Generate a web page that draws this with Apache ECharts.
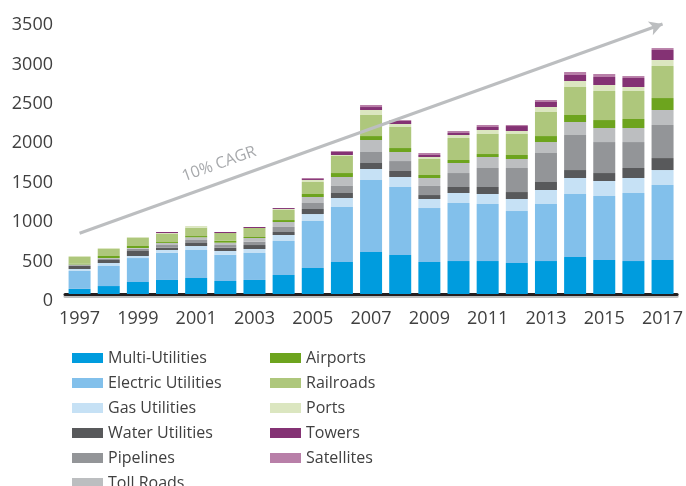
<!DOCTYPE html>
<html>
<head>
<meta charset="utf-8">
<script src="https://cdn.jsdelivr.net/npm/echarts@6.0.0/dist/echarts.min.js"></script>
<style>
    html, body { margin: 0; padding: 0; background: #fff; }
    #chart { width: 686px; height: 486px; }
</style>
</head>
<body>
<div id="chart"></div>
<script>
    var years = ['1997', '1998', '1999', '2000', '2001', '2002', '2003', '2004', '2005', '2006', '2007',
        '2008', '2009', '2010', '2011', '2012', '2013', '2014', '2015', '2016', '2017'];

    var multiUtilities = [65, 101, 152, 178, 203, 165, 178, 241, 330, 406, 533, 495, 406, 418, 418, 393, 418, 469, 431, 418, 431];
    var electricUtilities = [227, 254, 304, 346, 355, 333, 342, 431, 596, 697, 913, 862, 684, 736, 723, 659, 723, 799, 812, 863, 951];
    var gasUtilities = [25, 38, 26, 34, 51, 47, 51, 76, 88, 114, 139, 127, 115, 127, 127, 153, 178, 203, 190, 190, 190];
    var waterUtilities = [38, 38, 63, 29, 38, 42, 50, 38, 64, 64, 76, 76, 50, 76, 89, 88, 101, 101, 101, 127, 152];
    var pipelines = [10, 19, 30, 34, 38, 34, 42, 64, 76, 89, 140, 126, 115, 177, 241, 305, 368, 444, 393, 329, 419];
    var tollRoads = [10, 6, 8, 26, 34, 30, 47, 63, 76, 114, 152, 115, 101, 127, 139, 114, 139, 165, 178, 178, 190];
    var airports = [9, 26, 26, 12, 16, 25, 13, 25, 38, 50, 50, 50, 38, 38, 38, 51, 76, 89, 101, 114, 152];
    var railroads = [85, 89, 101, 102, 106, 97, 114, 127, 152, 216, 267, 267, 203, 279, 254, 266, 305, 355, 368, 355, 406];
    var ports = [13, 12, 13, 12, 21, 0, 0, 13, 26, 13, 63, 38, 25, 38, 51, 38, 63, 76, 76, 51, 76];
    var towers = [0, 0, 0, 13, 0, 13, 13, 12, 12, 38, 38, 38, 26, 26, 38, 63, 64, 76, 102, 114, 127];
    var satellites = [0, 0, 0, 0, 0, 0, 0, 0, 13, 12, 26, 12, 25, 25, 25, 13, 25, 38, 38, 25, 25];

    var yTicks = [0, 500, 1000, 1500, 2000, 2500, 3000, 3500];

    // trend arrow (start / end values) and its label
    var cagrLabel = '10% CAGR';
    var cagrStart = 770;
    var cagrEnd = 3424;

    var seriesList = [
        { name: 'Multi-Utilities', data: multiUtilities, color: '#009CDE' },
        { name: 'Electric Utilities', data: electricUtilities, color: '#82C0EB' },
        { name: 'Gas Utilities', data: gasUtilities, color: '#C6E1F5' },
        { name: 'Water Utilities', data: waterUtilities, color: '#58595B' },
        { name: 'Pipelines', data: pipelines, color: '#939598' },
        { name: 'Toll Roads', data: tollRoads, color: '#BCBEC0' },
        { name: 'Airports', data: airports, color: '#6DA41E' },
        { name: 'Railroads', data: railroads, color: '#AEC77C' },
        { name: 'Ports', data: ports, color: '#DBE6C0' },
        { name: 'Towers', data: towers, color: '#843274' },
        { name: 'Satellites', data: satellites, color: '#B87FA8' }
    ];

    var font = 'Open Sans';
    var textColor = '#404040';

    var series = seriesList.map(function (s, i) {
        var item = {
            name: s.name,
            type: 'bar',
            stack: 'total',
            barWidth: 22,
            data: s.data,
            itemStyle: { color: s.color },
            emphasis: { disabled: true }
        };
        if (i === 0) {
            item.markLine = {
                silent: true,
                symbol: ['none', 'arrow'],
                symbolSize: [11, 13],
                lineStyle: { color: '#BCBEC0', width: 3, type: 'solid' },
                label: {
                    show: true,
                    formatter: cagrLabel,
                    position: 'insideStartTop',
                    distance: 10,
                    color: '#A7A9AC',
                    fontFamily: font,
                    fontSize: 16,
                    padding: [0, 0, 0, 106]
                },
                data: [[{ coord: [years[0], cagrStart] }, { coord: [years[years.length - 1], cagrEnd] }]]
            };
        }
        return item;
    });

    var legendText = { fontFamily: font, fontSize: 16, color: textColor, lineHeight: 20 };

    var chart = echarts.init(document.getElementById('chart'));
    chart.setOption({
        animation: false,
        color: seriesList.map(function (s) { return s.color; }),
        grid: { left: 65, right: 3, top: 18, bottom: 192 },
        legend: [
            {
                orient: 'vertical', left: 67, top: 343, height: 200,
                itemWidth: 31, itemHeight: 10, itemGap: 5, icon: 'rect',
                textStyle: legendText,
                data: seriesList.slice(0, 6).map(function (s) { return s.name; })
            },
            {
                orient: 'vertical', left: 265, top: 343, height: 200,
                itemWidth: 31, itemHeight: 10, itemGap: 5, icon: 'rect',
                textStyle: legendText,
                data: seriesList.slice(6).map(function (s) { return s.name; })
            }
        ],
        xAxis: {
            type: 'category',
            data: years,
            axisLine: { lineStyle: { color: '#231F20', width: 3, shadowColor: 'rgba(0,0,0,0.25)', shadowOffsetY: 2 } },
            axisTick: { show: false },
            axisLabel: { interval: 1, margin: 16, fontFamily: font, fontSize: 18, color: textColor }
        },
        yAxis: {
            type: 'value',
            min: yTicks[0],
            max: yTicks[yTicks.length - 1],
            interval: 500,
            splitLine: { show: false },
            axisLine: { show: false },
            axisTick: { show: false },
            axisLabel: {
                margin: 12, fontFamily: font, fontSize: 18, color: textColor,
                verticalAlign: 'top', lineHeight: 14,
                formatter: function (v) { return String(v); }
            }
        },
        series: series
    });
</script>
</body>
</html>
